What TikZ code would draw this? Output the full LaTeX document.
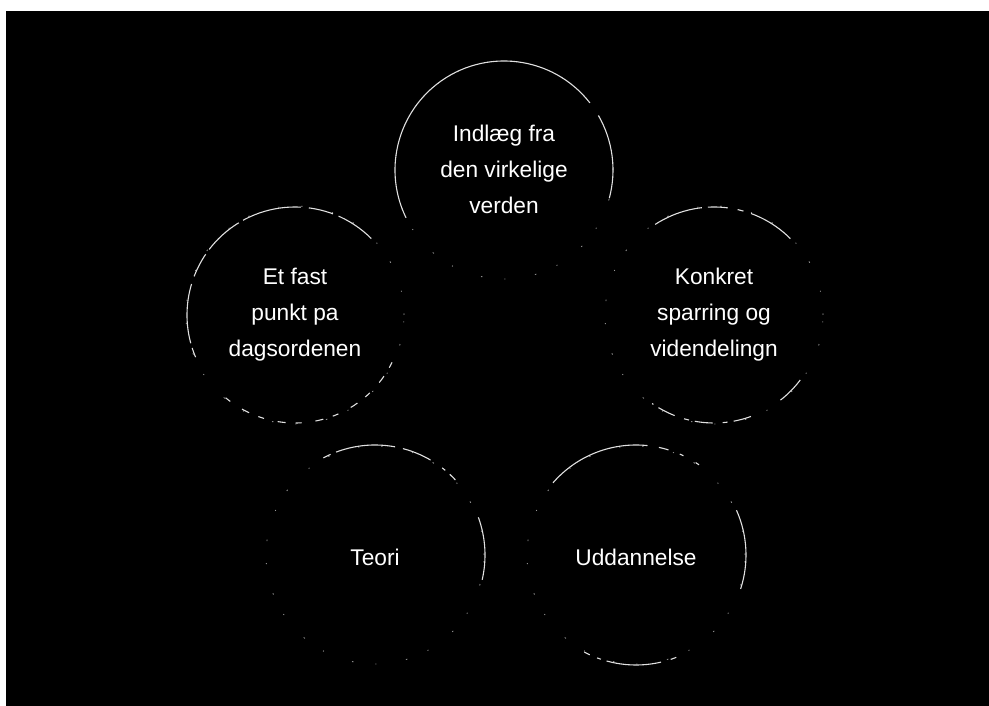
\documentclass[tikz,border=0pt]{standalone}
\usepackage{fontspec}
\setmainfont{Liberation Sans}
\begin{document}
\begin{tikzpicture}[x=1pt,y=1pt,
  lbl/.style={text=white, align=center, inner sep=0pt, font=\fontsize{22.7}{36}\selectfont},
  ring/.style={draw=white!88!black, line width=1.1pt},
  faint/.style={draw=white!60!black, line width=0.8pt, dash pattern=on 1.5pt off 22pt on 1pt off 30pt}]
\useasboundingbox (0,0) rectangle (989,706);
\fill[white] (0,0) rectangle (989,706);
\fill[black] (6,0) rectangle (989,695);
% centres
\coordinate (ctop) at (504,536);
\coordinate (cleft) at (295,391);
\coordinate (cright) at (714,391);
\coordinate (cteori) at (375,151);
\coordinate (cudd) at (636,151);
% labels
\node[lbl] (top) at ([yshift=1pt]ctop) {Indlæg fra\\den virkelige\\verden};
\node[lbl] (left) at (cleft) {Et fast\\punkt pa\\dagsordenen};
\node[lbl] (right) at (cright) {Konkret\\sparring og\\videndelingn};
\node[lbl] (teori) at ([yshift=-2pt]cteori) {Teori};
\node[lbl] (udd) at ([yshift=-2pt]cudd) {Uddannelse};
% faint broken full circles
\foreach \c in {ctop,cleft,cright,cteori,cudd}
  \draw[faint] (\c) circle[radius=109];
% top circle arcs
\draw[ring] (ctop) ++(38:109) arc[start angle=38, end angle=206, radius=109];
\draw[ring] (ctop) ++(-15:109) arc[start angle=-15, end angle=30, radius=109];
% left circle arcs
\draw[ring, dash pattern=on 40pt off 6pt on 25pt off 8pt on 60pt off 5pt] (cleft) ++(45:108) arc[start angle=45, end angle=203, radius=108];
\draw[ring, dash pattern=on 6pt off 14pt on 8pt off 10pt] (cleft) ++(-130:108) arc[start angle=-130, end angle=-20, radius=108];
% right circle arcs
\draw[ring, dash pattern=on 50pt off 6pt on 20pt off 10pt on 6pt off 8pt] (cright) ++(123:108) arc[start angle=123, end angle=45, radius=108];
\draw[ring] (cright) ++(-37:108) arc[start angle=-37, end angle=-52, radius=108];
\draw[ring, dash pattern=on 18pt off 6pt on 5pt off 10pt] (cright) ++(-70:108) arc[start angle=-70, end angle=-125, radius=108];
% teori circle arcs
\draw[ring, dash pattern=on 8pt off 6pt on 60pt off 8pt on 30pt off 14pt on 4pt off 6pt] (cteori) ++(118:110) arc[start angle=118, end angle=42, radius=110];
\draw[ring] (cteori) ++(20:110) arc[start angle=20, end angle=-13, radius=110];
% uddannelse circle arcs
\draw[ring] (cudd) ++(139:110) arc[start angle=139, end angle=84, radius=110];
\draw[ring, dash pattern=on 10pt off 12pt on 4pt off 14pt on 4pt off 20pt] (cudd) ++(78:110) arc[start angle=78, end angle=45, radius=110];
\draw[ring] (cudd) ++(24:110) arc[start angle=24, end angle=-18, radius=110];
\draw[ring, dash pattern=on 6pt off 8pt on 4pt off 6pt on 55pt off 10pt] (cudd) ++(-118:110) arc[start angle=-118, end angle=-66, radius=110];
\end{tikzpicture}
\end{document}
